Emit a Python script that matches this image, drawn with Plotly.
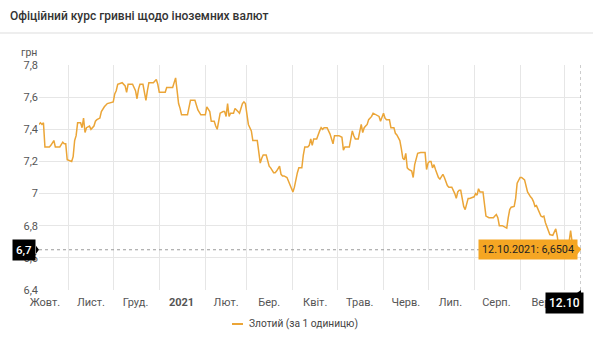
import plotly.graph_objects as go

# Official NBU rate: hryvnias per 1 Polish zloty
dates = [
    "2020-10-12", "2020-10-13", "2020-10-14", "2020-10-15", "2020-10-16", "2020-10-19",
    "2020-10-20", "2020-10-22", "2020-10-23", "2020-10-26", "2020-10-28", "2020-10-29",
    "2020-10-30", "2020-10-31", "2020-11-03", "2020-11-04", "2020-11-05", "2020-11-06",
    "2020-11-07", "2020-11-09", "2020-11-10", "2020-11-11", "2020-11-12", "2020-11-13",
    "2020-11-15", "2020-11-16", "2020-11-18", "2020-11-19", "2020-11-20", "2020-11-22",
    "2020-11-23", "2020-11-25", "2020-11-27", "2020-11-30", "2020-12-01", "2020-12-02",
    "2020-12-03", "2020-12-04", "2020-12-06", "2020-12-07", "2020-12-09", "2020-12-10",
    "2020-12-11", "2020-12-14", "2020-12-16", "2020-12-17", "2020-12-18", "2020-12-19",
    "2020-12-21", "2020-12-22", "2020-12-23", "2020-12-24", "2020-12-25", "2020-12-28",
    "2020-12-30", "2020-12-31", "2021-01-01", "2021-01-05", "2021-01-06", "2021-01-10",
    "2021-01-12", "2021-01-13", "2021-01-14", "2021-01-15", "2021-01-16", "2021-01-20",
    "2021-01-21", "2021-01-22", "2021-01-25", "2021-01-26", "2021-01-27", "2021-01-29",
    "2021-02-01", "2021-02-02", "2021-02-03", "2021-02-04", "2021-02-05", "2021-02-07",
    "2021-02-08", "2021-02-09", "2021-02-10", "2021-02-11", "2021-02-13", "2021-02-14",
    "2021-02-15", "2021-02-16", "2021-02-17", "2021-02-18", "2021-02-20", "2021-02-21",
    "2021-02-23", "2021-02-24", "2021-02-26", "2021-02-27", "2021-02-28", "2021-03-01",
    "2021-03-02", "2021-03-04", "2021-03-05", "2021-03-08", "2021-03-09", "2021-03-10",
    "2021-03-11", "2021-03-12", "2021-03-14", "2021-03-15", "2021-03-16", "2021-03-17",
    "2021-03-19", "2021-03-20", "2021-03-21", "2021-03-23", "2021-03-24", "2021-03-25",
    "2021-03-26", "2021-03-28", "2021-03-29", "2021-03-30", "2021-04-01", "2021-04-02",
    "2021-04-03", "2021-04-04", "2021-04-05", "2021-04-07", "2021-04-08", "2021-04-09",
    "2021-04-11", "2021-04-12", "2021-04-13", "2021-04-14", "2021-04-15", "2021-04-17",
    "2021-04-19", "2021-04-20", "2021-04-21", "2021-04-22", "2021-04-24", "2021-04-26",
    "2021-04-28", "2021-04-29", "2021-05-02", "2021-05-04", "2021-05-05", "2021-05-06",
    "2021-05-09", "2021-05-10", "2021-05-11", "2021-05-12", "2021-05-13", "2021-05-15",
    "2021-05-16", "2021-05-17", "2021-05-18", "2021-05-19", "2021-05-20", "2021-05-21",
    "2021-05-22", "2021-05-24", "2021-05-25", "2021-05-27", "2021-05-29", "2021-05-30",
    "2021-06-01", "2021-06-02", "2021-06-03", "2021-06-05", "2021-06-06", "2021-06-08",
    "2021-06-09", "2021-06-10", "2021-06-12", "2021-06-13", "2021-06-14", "2021-06-15",
    "2021-06-16", "2021-06-17", "2021-06-18", "2021-06-20", "2021-06-21", "2021-06-22",
    "2021-06-24", "2021-06-26", "2021-06-29", "2021-06-30", "2021-07-01", "2021-07-02",
    "2021-07-03", "2021-07-04", "2021-07-05", "2021-07-06", "2021-07-08", "2021-07-09",
    "2021-07-11", "2021-07-12", "2021-07-14", "2021-07-15", "2021-07-17", "2021-07-19",
    "2021-07-20", "2021-07-21", "2021-07-22", "2021-07-23", "2021-07-24", "2021-07-25",
    "2021-07-26", "2021-07-28", "2021-07-29", "2021-08-01", "2021-08-02", "2021-08-03",
    "2021-08-04", "2021-08-05", "2021-08-07", "2021-08-08", "2021-08-09", "2021-08-11",
    "2021-08-14", "2021-08-15", "2021-08-16", "2021-08-17", "2021-08-18", "2021-08-20",
    "2021-08-22", "2021-08-23", "2021-08-24", "2021-08-25", "2021-08-26", "2021-08-28",
    "2021-08-29", "2021-08-30", "2021-09-01", "2021-09-02", "2021-09-04", "2021-09-05",
    "2021-09-06", "2021-09-08", "2021-09-09", "2021-09-10", "2021-09-11", "2021-09-12",
    "2021-09-13", "2021-09-15", "2021-09-16", "2021-09-17", "2021-09-18", "2021-09-20",
    "2021-09-21", "2021-09-23", "2021-09-24", "2021-09-25", "2021-09-26", "2021-09-27",
    "2021-10-01", "2021-10-03", "2021-10-04", "2021-10-05", "2021-10-06", "2021-10-08",
    "2021-10-11", "2021-10-12",
]

rates = [
    7.43, 7.44, 7.43, 7.44, 7.29, 7.29,
    7.30, 7.33, 7.29, 7.29, 7.32, 7.31,
    7.31, 7.21, 7.20, 7.23, 7.33, 7.36,
    7.44, 7.44, 7.41, 7.47, 7.38, 7.41,
    7.42, 7.40, 7.42, 7.45, 7.46, 7.47,
    7.51, 7.54, 7.56, 7.57, 7.57, 7.62,
    7.64, 7.68, 7.69, 7.69, 7.67, 7.63,
    7.68, 7.68, 7.64, 7.59, 7.65, 7.68,
    7.68, 7.62, 7.58, 7.64, 7.69, 7.69,
    7.71, 7.68, 7.63, 7.63, 7.66, 7.66,
    7.72, 7.64, 7.56, 7.53, 7.49, 7.49,
    7.54, 7.58, 7.58, 7.54, 7.52, 7.49,
    7.49, 7.54, 7.52, 7.51, 7.45, 7.45,
    7.42, 7.40, 7.45, 7.50, 7.51, 7.51,
    7.48, 7.56, 7.48, 7.50, 7.50, 7.53,
    7.51, 7.50, 7.56, 7.57, 7.56, 7.49,
    7.43, 7.39, 7.33, 7.33, 7.25, 7.19,
    7.22, 7.24, 7.24, 7.20, 7.17, 7.16,
    7.13, 7.13, 7.14, 7.17, 7.12, 7.11,
    7.11, 7.10, 7.08, 7.05, 7.01, 7.04,
    7.10, 7.13, 7.16, 7.16, 7.24, 7.29,
    7.29, 7.30, 7.34, 7.30, 7.34, 7.34,
    7.39, 7.41, 7.40, 7.41, 7.41, 7.37,
    7.31, 7.36, 7.36, 7.35, 7.27, 7.29,
    7.29, 7.33, 7.39, 7.36, 7.34, 7.34,
    7.39, 7.43, 7.38, 7.41, 7.42, 7.43,
    7.46, 7.48, 7.50, 7.49, 7.48, 7.45,
    7.50, 7.47, 7.46, 7.46, 7.41, 7.41,
    7.375, 7.365, 7.33, 7.28, 7.22, 7.21,
    7.25, 7.16, 7.15, 7.14, 7.10, 7.18,
    7.25, 7.255, 7.255, 7.15, 7.19, 7.20,
    7.20, 7.16, 7.18, 7.15, 7.10, 7.09,
    7.12, 7.10, 7.05, 7.04, 7.04, 7.00,
    6.97, 7.01, 7.02, 7.02, 6.97, 6.92,
    6.90, 6.97, 6.97, 6.98, 7.00, 6.99,
    7.03, 7.01, 7.01, 6.94, 6.86, 6.85,
    6.85, 6.86, 6.87, 6.85, 6.80, 6.80,
    6.79, 6.785, 6.85, 6.90, 6.915, 6.92,
    6.97, 7.065, 7.10, 7.10, 7.085, 7.04,
    7.01, 6.98, 6.97, 6.95, 6.92, 6.925,
    6.90, 6.86, 6.855, 6.86, 6.82, 6.775,
    6.745, 6.74, 6.765, 6.78, 6.735, 6.67,
    6.67, 6.66, 6.70, 6.77, 6.70, 6.67,
    6.66, 6.6504,
]

# Month labels sit in the middle of each month
label_dates = [
    "2020-10-16", "2020-11-16", "2020-12-16", "2021-01-16", "2021-02-15", "2021-03-16",
    "2021-04-16", "2021-05-16", "2021-06-16", "2021-07-16", "2021-08-16", "2021-09-16",
]
label_texts = [
    "Жовт.", "Лист.", "Груд.", "<b>2021</b>", "Лют.", "Бер.",
    "Квіт.", "Трав.", "Черв.", "Лип.", "Серп.", "Вер.",
]

series_name = "Злотий (за 1 одиницю)"
title_text = "Офіційний курс гривні щодо іноземних валют"
unit_text = "грн"

W, H = 593, 350
ML, MR, MT, MB = 39, 12, 65, 60
PW, PH = W - ML - MR, H - MT - MB

LINE = "#EBA537"
GRID = "#E6E6E6"
TXT = "#555555"
FONT = "Roboto"


def px_x(x):
    return (x - ML) / PW


def px_y(y):
    return (H - MB - y) / PH


last_date = dates[-1]
last_rate = rates[-1]
yy, mm, dd = last_date.split("-")
tip_text = f"{dd}.{mm}.{yy}: " + f"{last_rate:.4f}".replace(".", ",")
cursor_x_text = f"{dd}.{mm}"
cursor_y_text = f"{last_rate:.1f}".replace(".", ",")

fig = go.Figure()
fig.add_trace(go.Scatter(
    x=dates, y=rates, mode="lines", name=series_name,
    line=dict(color=LINE, width=1.5), showlegend=False, hoverinfo="skip",
))

shapes = [
    # header separator
    dict(type="line", xref="paper", yref="paper", x0=px_x(0), x1=px_x(W),
         y0=px_y(33), y1=px_y(33), line=dict(color="#E8E8E8", width=1.5)),
    # cursor lines
    dict(type="line", xref="paper", yref="y", x0=0, x1=1, y0=last_rate, y1=last_rate,
         line=dict(color="#9A9A9A", width=1, dash="dot")),
    dict(type="line", xref="x", yref="paper", x0=last_date, x1=last_date, y0=0, y1=1,
         line=dict(color="#9A9A9A", width=1, dash="dot")),
    # legend swatch
    dict(type="line", xref="paper", yref="paper", x0=px_x(232), x1=px_x(243),
         y0=px_y(324), y1=px_y(324), line=dict(color=LINE, width=2)),
    # pointer of the value badge on the y axis
    dict(type="path", xref="paper", yref="y", xsizemode="pixel", ysizemode="pixel",
         xanchor=0, yanchor=last_rate, path="M -3,4 L 0,0 L -3,-4 Z",
         fillcolor="black", line=dict(width=0)),
    # pointer of the date badge on the x axis
    dict(type="path", xref="x", yref="paper", xsizemode="pixel", ysizemode="pixel",
         xanchor=last_date, yanchor=0, path="M -4,-3 L 0,0 L 0,-3 Z",
         fillcolor="black", line=dict(width=0)),
    # pointer of the orange tooltip
    dict(type="path", xref="x", yref="y", xsizemode="pixel", ysizemode="pixel",
         xanchor=last_date, yanchor=last_rate, path="M -4,5 L 0,0 L -4,-5 Z",
         fillcolor="#F5A623", line=dict(width=0)),
]

annotations = [
    dict(text=title_text, xref="paper", yref="paper", x=px_x(8), y=px_y(16),
         xanchor="left", yanchor="middle", showarrow=False,
         font=dict(family=FONT, size=12, color="#333333", weight=500)),
    dict(text=unit_text, xref="paper", yref="paper", x=px_x(19), y=px_y(52),
         xanchor="left", yanchor="middle", showarrow=False,
         font=dict(family=FONT, size=10.5, color=TXT)),
    dict(text=series_name, xref="paper", yref="paper", x=px_x(247), y=px_y(324),
         xanchor="left", yanchor="middle", showarrow=False,
         font=dict(family=FONT, size=10.2, color="#444444")),
    dict(text=tip_text, xref="x", yref="y", x=last_date, y=last_rate,
         xanchor="right", yanchor="middle", xshift=-3, showarrow=False,
         bgcolor="#F5A623", borderpad=3,
         font=dict(family=FONT, size=10.8, color="#222222")),
    dict(text=cursor_y_text, xref="paper", yref="y", x=0, y=last_rate,
         xanchor="right", yanchor="middle", xshift=-3, showarrow=False,
         bgcolor="black", borderpad=3,
         font=dict(family=FONT, size=11.5, color="white", weight=500)),
    dict(text=cursor_x_text, xref="x", yref="paper", x=last_date, y=0,
         xanchor="right", yanchor="top", xshift=3, yshift=-2, showarrow=False,
         bgcolor="black", borderpad=3,
         font=dict(family=FONT, size=12, color="white", weight=500)),
]

fig.update_layout(
    width=W, height=H,
    margin=dict(l=ML, r=MR, t=MT, b=MB),
    paper_bgcolor="white", plot_bgcolor="white",
    separators=", ",
    showlegend=False,
    shapes=shapes,
    annotations=annotations,
    xaxis=dict(
        type="date", range=["2020-10-12", last_date],
        tickmode="array", tickvals=label_dates, ticktext=label_texts,
        showgrid=False, zeroline=False, showline=False, ticks="",
        ticklabelstandoff=4,
        tickfont=dict(family=FONT, size=11, color=TXT),
        minor=dict(dtick="M1", tick0="2020-11-01", showgrid=True,
                   gridcolor=GRID, gridwidth=1, ticks=""),
        fixedrange=True,
    ),
    yaxis=dict(
        range=[6.4, 7.8], tick0=6.4, dtick=0.2,
        showgrid=True, gridcolor=GRID, gridwidth=1,
        zeroline=False, showline=False, ticks="",
        tickfont=dict(family=FONT, size=11, color=TXT),
        fixedrange=True,
    ),
)

fig.write_html("out.html")
